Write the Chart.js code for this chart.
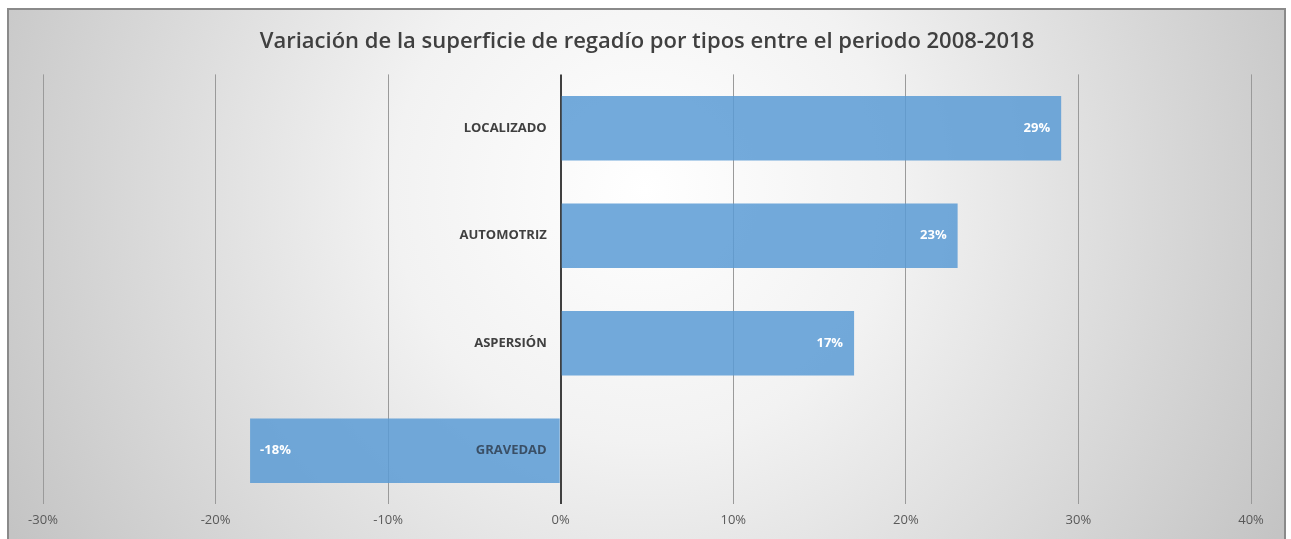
<!DOCTYPE html>
<html>
<head>
<meta charset="utf-8">
<script src="https://cdn.jsdelivr.net/npm/chart.js@4"></script>
<style>
  html, body { margin: 0; padding: 0; background: #ffffff; }
  #wrap { width: 1291px; height: 539px; }
</style>
</head>
<body>
<div id="wrap"><canvas id="c" width="1291" height="539"></canvas></div>
<script>
const title = 'Variación de la superficie de regadío por tipos entre el periodo 2008-2018';
const categories = ['LOCALIZADO', 'AUTOMOTRIZ', 'ASPERSIÓN', 'GRAVEDAD'];
const variation = [29, 23, 17, -18];
const xTickMin = -30;
const xTickMax = 40;
const xTickStep = 10;

const backgroundPlugin = {
  id: 'bgFrame',
  beforeDraw(chart) {
    const ctx = chart.ctx;
    const W = chart.width, H = chart.height;
    ctx.save();
    ctx.fillStyle = '#ffffff';
    ctx.fillRect(0, 0, W, H);
    const g = ctx.createRadialGradient(645, 190, 0, 645, 190, 720);
    g.addColorStop(0, '#ffffff');
    g.addColorStop(0.35, '#f2f2f2');
    g.addColorStop(1, '#c4c4c4');
    ctx.fillStyle = g;
    ctx.fillRect(8, 9, 1277, H);
    ctx.strokeStyle = '#8a8a8a';
    ctx.lineWidth = 2;
    ctx.strokeRect(8, 9, 1277, H + 10);
    ctx.restore();
  }
};

// Value labels inside bar ends + category labels next to the zero axis
const labelPlugin = {
  id: 'barLabels',
  afterDatasetsDraw(chart) {
    const ctx = chart.ctx;
    const meta = chart.getDatasetMeta(0);
    const xs = chart.scales.x;
    const ys = chart.scales.y;
    const zeroX = xs.getPixelForValue(0);
    ctx.save();
    ctx.textBaseline = 'middle';
    meta.data.forEach((bar, i) => {
      const v = chart.data.datasets[0].data[i];
      const txt = v + '%';
      ctx.font = 'bold 13px "Open Sans"';
      ctx.fillStyle = '#ffffff';
      if (v >= 0) {
        ctx.textAlign = 'right';
        ctx.fillText(txt, bar.x - 11, bar.y);
      } else {
        ctx.textAlign = 'left';
        ctx.fillText(txt, bar.x + 10, bar.y);
      }
      // category label
      ctx.font = 'bold 13px "Open Sans"';
      ctx.fillStyle = v >= 0 ? '#404040' : '#3a4f66';
      ctx.textAlign = 'right';
      ctx.fillText(chart.data.labels[i], zeroX - 14, ys.getPixelForValue(i));
    });
    ctx.restore();
  }
};

new Chart(document.getElementById('c'), {
  type: 'bar',
  data: {
    labels: categories,
    datasets: [{
      data: variation,
      backgroundColor: 'rgba(91,155,213,0.85)',
      borderWidth: 0,
      categoryPercentage: 1.0,
      barPercentage: 0.6
    }]
  },
  options: {
    indexAxis: 'y',
    responsive: false,
    animation: false,
    devicePixelRatio: 1,
    layout: { padding: { left: 43, right: 40, top: 5, bottom: 3 } },
    plugins: {
      legend: { display: false },
      tooltip: { enabled: false },
      title: {
        display: true,
        text: title,
        color: '#404040',
        font: { family: '"Open Sans"', size: 22, weight: '600', lineHeight: 1.2 },
        padding: { top: 24, bottom: 19 }
      }
    },
    scales: {
      x: {
        min: xTickMin,
        max: xTickMax,
        ticks: {
          stepSize: xTickStep,
          callback: v => v + '%',
          color: '#595959',
          font: { family: '"Open Sans"', size: 13 },
          padding: 8
        },
        grid: {
          drawTicks: false,
          color: c => (c.tick && c.tick.value === 0) ? '#404040' : '#9a9a9a',
          lineWidth: c => (c.tick && c.tick.value === 0) ? 2 : 1
        },
        border: { display: false }
      },
      y: {
        position: { x: 0 },
        grid: { display: false, drawTicks: false },
        border: { display: false },
        ticks: { display: false }
      }
    }
  },
  plugins: [backgroundPlugin, labelPlugin]
});
</script>
</body>
</html>
